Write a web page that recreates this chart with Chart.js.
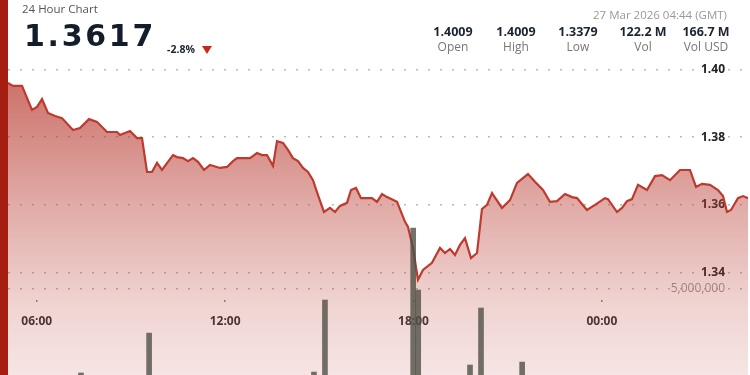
<!DOCTYPE html>
<html>
<head>
<meta charset="utf-8">
<script src="https://cdn.jsdelivr.net/npm/chart.js@4.4.0/dist/chart.umd.min.js"></script>
<style>
  html, body { margin:0; padding:0; width:750px; height:375px; overflow:hidden; background:#fff; }
  body { position:relative; font-family:"Open Sans", sans-serif; }
  #wrap { position:absolute; left:0; top:0; width:750px; height:420px; }
  #redbar { position:absolute; left:0; top:0; width:8px; height:375px; background:#a61e12; z-index:3; }
  .t { position:absolute; white-space:nowrap; line-height:1; z-index:2; }
  .v { font-weight:bold; font-size:12.5px; color:#1c2430; text-align:center; width:70px; }
  .l { font-size:12px; color:#777; text-align:center; width:70px; }
</style>
</head>
<body>
<div id="wrap"><canvas id="c" width="750" height="420"></canvas></div>
<div id="redbar"></div>
<div class="t" style="left:22px; top:3px; font-size:11.5px; color:#555;">24 Hour Chart</div>
<div class="t" style="left:24px; top:20.5px; font-family:'DejaVu Sans'; font-weight:bold; font-size:30px; color:#141d2b; letter-spacing:2.7px;">1.3617</div>
<div class="t" style="left:167px; top:44px; font-size:10.5px; font-weight:bold; color:#1c2430;">-2.8%</div>
<div style="position:absolute; left:202px; top:46px; width:0; height:0; border-left:5px solid transparent; border-right:5px solid transparent; border-top:8px solid #c62a1e; z-index:2;"></div>
<div class="t" style="right:23px; top:8.8px; font-size:11.5px; color:#999;">27 Mar 2026 04:44 (GMT)</div>
<div class="t v" style="left:418px; top:26px;">1.4009</div>
<div class="t v" style="left:481px; top:26px;">1.4009</div>
<div class="t v" style="left:543px; top:26px;">1.3379</div>
<div class="t v" style="left:608px; top:26px;">122.2 M</div>
<div class="t v" style="left:671px; top:26px;">166.7 M</div>
<div class="t l" style="left:418px; top:41.3px;">Open</div>
<div class="t l" style="left:481px; top:41.3px;">High</div>
<div class="t l" style="left:543px; top:41.3px;">Low</div>
<div class="t l" style="left:608px; top:41.3px;">Vol</div>
<div class="t l" style="left:671px; top:41.3px;">Vol USD</div>
<script>
// ---- data ----
const hours = [5.086,5.245,5.532,5.850,6.010,6.169,6.360,6.583,6.806,7.156,7.379,7.666,7.920,8.239,8.557,8.653,8.971,9.194,9.354,9.513,9.672,9.831,9.990,10.341,10.468,10.659,10.818,10.978,11.137,11.328,11.519,11.838,12.061,12.252,12.379,12.570,12.793,13.016,13.175,13.334,13.526,13.653,13.844,14.003,14.162,14.322,14.481,14.640,14.799,14.959,15.150,15.341,15.500,15.659,15.882,16.010,16.169,16.328,16.678,16.838,16.997,17.156,17.475,17.730,17.825,17.984,18.143,18.303,18.589,18.844,19.003,19.162,19.322,19.481,19.640,19.831,20.022,20.181,20.341,20.500,20.818,21.073,21.296,21.646,21.869,22.124,22.347,22.570,22.825,23.048,23.207,23.525,23.780,24.099,24.194,24.481,24.640,24.799,24.959,25.150,25.436,25.691,25.914,26.169,26.487,26.806,26.997,27.188,27.443,27.697,27.857,27.984,28.111,28.334,28.494,28.653];
const prices = [1.3960,1.3951,1.3951,1.3880,1.3889,1.3912,1.3871,1.3862,1.3856,1.3821,1.3827,1.3853,1.3845,1.3815,1.3815,1.3806,1.3818,1.3797,1.3797,1.3697,1.3697,1.3724,1.3703,1.3747,1.3741,1.3738,1.3729,1.3738,1.3727,1.3703,1.3718,1.3709,1.3712,1.3729,1.3738,1.3738,1.3738,1.3753,1.3747,1.3747,1.3715,1.3788,1.3783,1.3762,1.3738,1.3729,1.3709,1.3697,1.3673,1.3629,1.3579,1.3591,1.3579,1.3597,1.3606,1.3644,1.3650,1.3620,1.3620,1.3609,1.3632,1.3623,1.3609,1.3550,1.3535,1.3473,1.3379,1.3408,1.3429,1.3473,1.3458,1.3470,1.3452,1.3482,1.3502,1.3443,1.3458,1.3588,1.3600,1.3635,1.3591,1.3614,1.3665,1.3691,1.3668,1.3644,1.3609,1.3611,1.3632,1.3623,1.3620,1.3585,1.3600,1.3620,1.3617,1.3579,1.3591,1.3611,1.3617,1.3659,1.3644,1.3685,1.3688,1.3673,1.3703,1.3703,1.3653,1.3662,1.3659,1.3644,1.3626,1.3579,1.3585,1.3620,1.3626,1.3620];
const volHours = [7.41, 9.58, 14.83, 15.18, 17.99, 18.15, 19.80, 20.15, 21.46];
const volumes = [1520000, 3160000, 1560000, 4520000, 7480000, 4930000, 1850000, 4190000, 1970000];
const xTickHours = [6, 12, 18, 24];
const priceTicks = [1.34, 1.36, 1.38, 1.40];
const volumeTicks = [5000000];

const pricePoints = hours.map((h, i) => ({x: h, y: prices[i]}));
const volPoints = volHours.map((h, i) => ({x: h, y: volumes[i]}));

const dotted = {display:false, dash:[2, 10]};
const gridStyle = {color:'rgba(140,140,140,0.6)', lineWidth:1.5, drawTicks:false};

function fillGradient(ctx) {
  const area = ctx.chart.chartArea;
  if (!area) return 'rgba(185,60,50,0.4)';
  const g = ctx.chart.ctx.createLinearGradient(0, area.top, 0, area.bottom);
  g.addColorStop(0, 'rgba(185,60,50,0.77)');
  g.addColorStop(0.4, 'rgba(185,60,50,0.44)');
  g.addColorStop(0.7, 'rgba(185,60,50,0.22)');
  g.addColorStop(1, 'rgba(185,60,50,0.09)');
  return g;
}

new Chart(document.getElementById('c'), {
  type: 'line',
  data: {
    datasets: [
      { type:'bar', data: volPoints, yAxisID:'yv', xAxisID:'x', backgroundColor:'rgba(80,80,70,0.8)', barThickness:5, order:0 },
      { type:'line', data: pricePoints, yAxisID:'y', xAxisID:'x', borderColor:'#bf3a2e', borderWidth:2.2, pointRadius:0, tension:0, fill:'start', backgroundColor: fillGradient, order:1 }
    ]
  },
  options: {
    responsive:false, animation:false, devicePixelRatio:1,
    layout: { padding: { left:8, right:2, top:62, bottom:10 } },
    plugins: { legend:{display:false}, tooltip:{enabled:false} },
    scales: {
      x: {
        type:'linear', min:5.086, max:28.653, position:{y:1.3319}, offset:false,
        afterBuildTicks: s => { s.ticks = xTickHours.map(v => ({value:v})); },
        afterFit: s => { s.height = 0; },
        ticks: { autoSkip:false, maxRotation:0, padding:12, color:'#333', font:{family:'Open Sans', weight:'bold', size:12},
                 callback: v => String(v % 24).padStart(2,'0') + ':00' },
        grid: { offset:false, drawOnChartArea:false, drawTicks:true, tickLength:2, color:'#888', lineWidth:1.5 },
        border: { display:false }
      },
      y: {
        position:'right', min:1.2995, max:1.40215,
        afterBuildTicks: s => { s.ticks = priceTicks.map(v => ({value:v})); },
        afterFit: s => { s.width = 0; },
        ticks: { mirror:true, padding:-23, color:'#222', font:{family:'Open Sans', weight:'bold', size:12}, callback: v => v.toFixed(2) },
        grid: gridStyle, border: dotted
      },
      yv: {
        position:'right', min:0, max:14300000,
        afterBuildTicks: s => { s.ticks = volumeTicks.map(v => ({value:v})); },
        afterFit: s => { s.width = 0; },
        ticks: { mirror:true, padding:-23, color:'#999', font:{family:'Open Sans', size:12}, callback: v => v.toLocaleString('en-US') },
        grid: gridStyle, border: dotted
      }
    }
  }
});
</script>
</body>
</html>
